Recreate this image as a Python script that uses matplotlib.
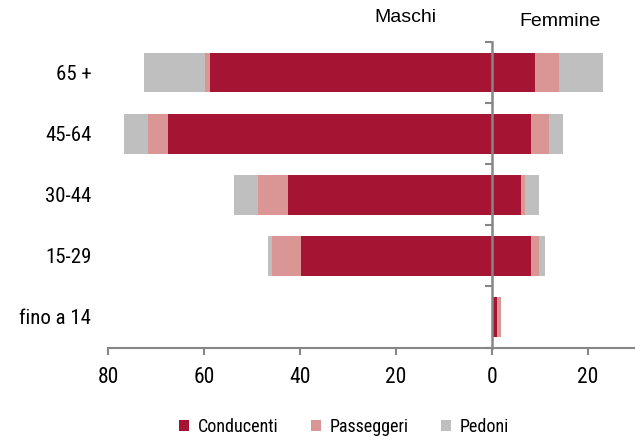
import matplotlib
matplotlib.use("Agg")
import matplotlib.pyplot as plt
from matplotlib.patches import Patch
from matplotlib.ticker import FuncFormatter
import numpy as np

categories = ["65 +", "45-64", "30-44", "15-29", "fino a 14"]
series_names = ["Conducenti", "Passeggeri", "Pedoni"]
m_cond = [58.8, 67.5, 42.6, 39.7, 0.0]
m_pass = [0.9, 4.2, 6.2, 6.2, 0.0]
m_ped = [12.9, 5.0, 5.0, 0.8, 0.0]
f_cond = [9.0, 8.1, 6.0, 8.1, 1.0]
f_pass = [5.0, 3.8, 0.9, 1.7, 0.8]
f_ped = [9.1, 2.8, 2.8, 1.2, 0.0]
xticks = [-80, -60, -40, -20, 0, 20]

colors = ["#A51432", "#D99694", "#BFBFBF"]
axis_gray = "#868686"
narrow = ["Roboto Condensed", "Liberation Sans", "DejaVu Sans"]
regular = ["Liberation Sans", "DejaVu Sans"]

fig = plt.figure(figsize=(6.36, 4.37), dpi=100)
xlim = (-80, 29.5)
ax = fig.add_axes([108 / 636, 1 - 347.5 / 437, (633.6 - 108) / 636, (347.5 - 42) / 437])

n = len(categories)
y = np.arange(n)[::-1]
h = 0.65

male = [np.array(m_cond), np.array(m_pass), np.array(m_ped)]
female = [np.array(f_cond), np.array(f_pass), np.array(f_ped)]
left_m = np.zeros(n)
left_f = np.zeros(n)
for i in range(3):
    ax.barh(y, -male[i], left=-left_m, height=h, color=colors[i], edgecolor="none", zorder=2)
    left_m += male[i]
    ax.barh(y, female[i], left=left_f, height=h, color=colors[i], edgecolor="none", zorder=2)
    left_f += female[i]

ax.set_xlim(*xlim)
ax.set_ylim(-0.5, n - 0.5)
for s in ["top", "right", "left"]:
    ax.spines[s].set_visible(False)
ax.spines["bottom"].set_color(axis_gray)
ax.spines["bottom"].set_linewidth(1.5)

ax.set_xticks(xticks)
ax.xaxis.set_major_formatter(FuncFormatter(lambda v, p: f"{abs(v):.0f}"))
ax.tick_params(axis="x", colors=axis_gray, length=5, width=1.5, pad=9, labelcolor="black")
for lab in ax.get_xticklabels():
    lab.set_family(narrow)
    lab.set_fontsize(15.5)

ax.set_yticks(y)
ax.set_yticklabels(categories, family=narrow, fontsize=15)
ax.tick_params(axis="y", length=0, pad=12)

# vertical zero axis
zero_frac = (0 - xlim[0]) / (xlim[1] - xlim[0])
sec = ax.secondary_yaxis(zero_frac)
sec.set_alignment("left")
sec.set_yticks(np.arange(n + 1) - 0.5)
sec.set_yticklabels([])
sec.tick_params(axis="y", direction="out", length=5, width=1.5, colors=axis_gray)
sec.spines["left"].set_color(axis_gray)
sec.spines["left"].set_linewidth(1.8)
sec.set_zorder(5)

fig.text(405 / 636, 1 - 18 / 437, "Maschi", family=regular, fontsize=14, ha="center", va="center")
fig.text(560 / 636, 1 - 21 / 437, "Femmine", family=regular, fontsize=14, ha="center", va="center")

handles = [Patch(facecolor=c, edgecolor="none") for c in colors]
leg = fig.legend(handles, series_names, loc="center", bbox_to_anchor=(344 / 636, 1 - 427 / 437),
                 ncol=3, frameon=False, handlelength=0.55, handleheight=0.55, handletextpad=0.5,
                 columnspacing=1.8, prop={"family": narrow, "size": 13},
                 borderpad=0.2)

fig.savefig("out.png", dpi=100)
